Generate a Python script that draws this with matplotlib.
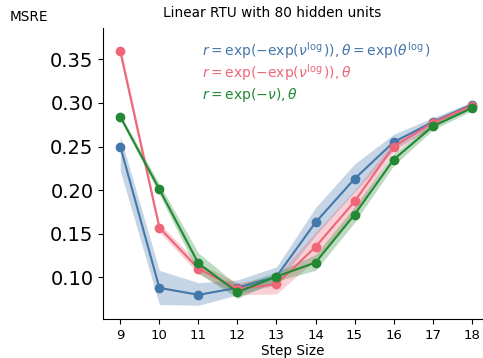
import numpy as np
import matplotlib
matplotlib.use("Agg")
import matplotlib.pyplot as plt

# ---- data ----
step_size = [9, 10, 11, 12, 13, 14, 15, 16, 17, 18]

blue_mean = [0.250, 0.088, 0.080, 0.088, 0.101, 0.163, 0.213, 0.255, 0.278, 0.298]
blue_lo   = [0.222, 0.069, 0.068, 0.080, 0.092, 0.148, 0.198, 0.246, 0.273, 0.295]
blue_hi   = [0.262, 0.108, 0.094, 0.097, 0.112, 0.180, 0.230, 0.264, 0.283, 0.301]

pink_mean = [0.359, 0.157, 0.110, 0.087, 0.092, 0.135, 0.187, 0.250, 0.277, 0.297]
pink_lo   = [0.352, 0.152, 0.104, 0.080, 0.081, 0.120, 0.174, 0.244, 0.273, 0.294]
pink_hi   = [0.366, 0.162, 0.116, 0.094, 0.101, 0.152, 0.200, 0.256, 0.281, 0.300]

green_mean = [0.284, 0.201, 0.116, 0.083, 0.101, 0.117, 0.172, 0.235, 0.273, 0.294]
green_lo   = [0.281, 0.195, 0.105, 0.076, 0.096, 0.108, 0.163, 0.228, 0.269, 0.291]
green_hi   = [0.287, 0.207, 0.128, 0.091, 0.106, 0.126, 0.181, 0.242, 0.277, 0.297]

labels = [r"$r = \exp(-\exp(\nu^{\log})), \theta = \exp(\theta^{\log})$",
          r"$r = \exp(-\exp(\nu^{\log})), \theta$",
          r"$r = \exp(-\nu), \theta$"]

BLUE, PINK, GREEN = "#4477AA", "#EE6677", "#228833"

fig = plt.figure(figsize=(4.83, 3.58), dpi=100)
ax = fig.add_axes([103.3 / 483, 39 / 358, 1 - 103.3 / 483, (319 - 28.3) / 358])

series = [(blue_mean, blue_lo, blue_hi, BLUE),
          (pink_mean, pink_lo, pink_hi, PINK),
          (green_mean, green_lo, green_hi, GREEN)]
for m, lo, hi, c in series:
    ax.fill_between(step_size, lo, hi, color=c, alpha=0.3, linewidth=0)
    ax.plot(step_size, m, color=c, lw=1.5, marker="o", ms=6)

for i, (lab, c) in enumerate(zip(labels, [BLUE, PINK, GREEN])):
    ax.text(0.26, 0.925 - i * 0.077, lab, color=c, fontsize=10,
            transform=ax.transAxes, va="center")

ax.set_xlim(8.564, 18.29)
ax.set_ylim(0.0523, 0.3855)
ax.set_xticks(step_size)
ax.set_yticks([0.10, 0.15, 0.20, 0.25, 0.30, 0.35])
ax.tick_params(axis="y", labelsize=14)
ax.tick_params(axis="x", labelsize=9.5)
ax.spines["top"].set_visible(False)
ax.spines["right"].set_visible(False)
ax.set_xlabel("Step Size", fontsize=9.8, labelpad=2)
ax.set_title("Linear RTU with 80 hidden units", fontsize=9.8, pad=8, x=0.444)
fig.text(10 / 483, 1 - 17 / 358, "MSRE", fontsize=9.8, va="center")

fig.savefig("out.png", dpi=100)
